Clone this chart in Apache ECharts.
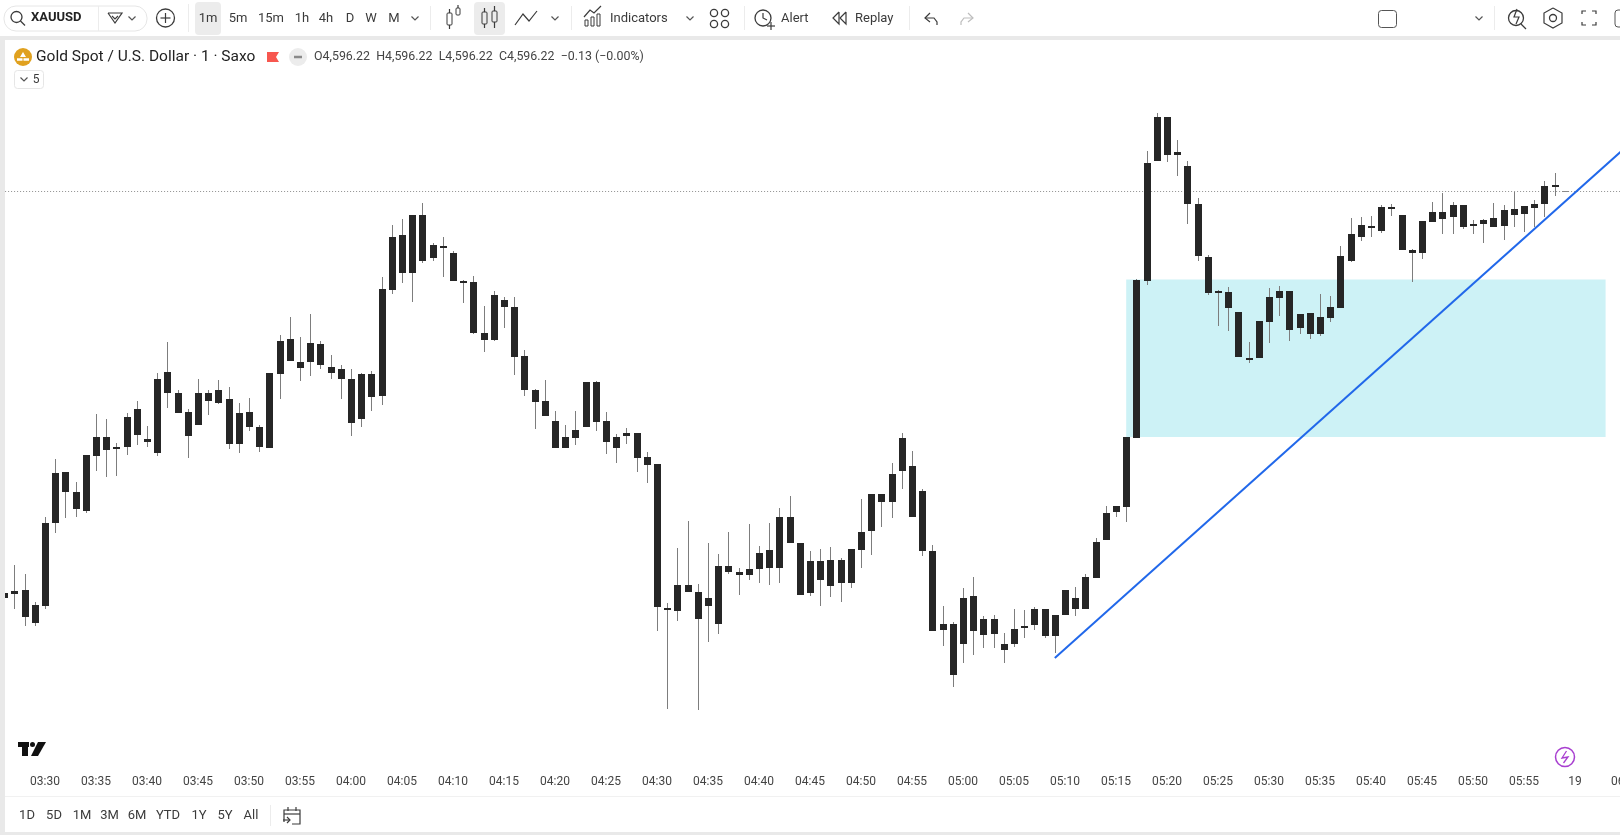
<!DOCTYPE html>
<html style="height:100%;">
<head>
    <meta charset="utf-8">
    <title>Gold Spot / U.S. Dollar</title>
    <script src="https://cdn.jsdelivr.net/npm/echarts@6/dist/echarts.min.js"></script>
</head>
<body style="height:100%; margin:0; overflow:hidden; background:#fff;">
    <div id="main" style="width:1620px; height:835px;"></div>
    <script type="text/javascript">
    // 1 minute candles, first one is 03:26 and half hidden behind the left edge
    var opens = [
        4556.0,4555.9,4556.3,4553.0,4554.7,4563.0,4568.1,4566.1,4564.2,4569.7,
        4571.6,4570.4,4570.6,4574.4,4571.4,4570.0,4578.1,4576.0,4574.1,4572.8,
        4576.0,4575.0,4575.4,4570.9,4574.1,4572.6,4570.5,4577.9,4581.4,4579.1,
        4579.1,4580.9,4578.6,4578.4,4577.4,4573.4,4577.9,4575.7,4586.3,4591.8,
        4588.0,4593.8,4589.5,4590.7,4590.0,4587.2,4587.1,4582.0,4581.3,4585.3,
        4584.6,4579.7,4576.3,4575.2,4573.2,4570.5,4571.5,4572.6,4577.1,4573.2,
        4571.6,4571.7,4572.0,4569.6,4568.9,4554.5,4554.2,4556.8,4556.1,4554.7,
        4552.9,4558.7,4558.1,4557.8,4558.4,4560.3,4558.5,4563.6,4561.0,4556.0,
        4559.2,4556.7,4559.3,4557.0,4560.3,4562.2,4565.9,4565.1,4568.2,4568.7,
        4566.2,4560.2,4552.3,4552.9,4550.9,4555.7,4551.8,4553.4,4550.9,4550.9,
        4552.5,4552.8,4554.4,4551.7,4553.8,4555.5,4554.4,4557.5,4561.3,4564.1,
        4564.6,4571.5,4587.2,4599.2,4603.6,4599.8,4598.7,4594.9,4589.6,4586.0,
        4586.1,4584.1,4579.5,4579.5,4583.1,4585.5,4586.2,4582.5,4584.0,4581.9,
        4583.5,4584.5,4589.2,4591.6,4592.7,4592.2,4594.6,4593.8,4590.3,4590.0,
        4593.1,4594.1,4593.6,4594.8,4592.8,4592.9,4593.5,4592.7,4594.4,4593.9,
        4594.5,4594.9,4596.8,4596.22
    ];
    var closes = [
        4555.5,4556.2,4553.6,4554.8,4563.0,4568.0,4566.1,4564.4,4569.8,4571.6,
        4570.3,4570.6,4573.6,4571.8,4571.1,4577.4,4576.0,4574.0,4571.7,4576.0,
        4575.2,4576.3,4570.9,4574.0,4572.6,4570.6,4578.0,4581.2,4579.2,4578.5,
        4581.0,4578.8,4578.0,4577.4,4573.0,4577.9,4575.6,4586.4,4591.6,4588.0,
        4593.8,4589.2,4590.8,4590.5,4587.2,4587.0,4582.0,4581.3,4585.8,4584.6,
        4579.6,4576.3,4575.1,4573.7,4570.5,4571.6,4572.3,4577.1,4573.1,4571.1,
        4570.5,4572.0,4569.5,4568.8,4554.6,4554.4,4556.8,4556.1,4553.4,4555.5,
        4558.7,4558.1,4557.8,4558.4,4560.0,4558.5,4563.6,4561.0,4555.8,4559.2,
        4557.3,4559.3,4557.0,4560.4,4562.1,4565.9,4565.1,4567.9,4571.5,4563.6,
        4560.2,4552.2,4552.9,4547.8,4555.5,4552.2,4553.4,4551.9,4550.3,4552.4,
        4552.7,4554.4,4551.7,4553.8,4556.3,4554.4,4557.6,4561.1,4564.0,4564.7,
        4571.6,4587.3,4599.0,4603.6,4599.8,4600.1,4594.9,4589.7,4586.0,4586.2,
        4584.5,4579.6,4579.4,4583.2,4585.6,4586.2,4582.3,4583.9,4581.9,4583.6,
        4584.6,4589.7,4591.9,4592.8,4592.6,4594.6,4594.4,4590.3,4590.0,4593.2,
        4594.1,4593.4,4594.8,4592.6,4592.9,4593.3,4592.6,4594.3,4593.8,4594.7,
        4594.9,4596.7,4596.6,4596.22
    ];
    var highs = [
        4556.0,4558.8,4557.9,4555.1,4563.6,4569.4,4568.1,4567.1,4569.8,4573.9,
        4573.4,4571.0,4574.0,4575.2,4572.7,4578.0,4581.1,4576.3,4574.4,4577.4,
        4576.3,4577.3,4576.6,4575.0,4575.5,4572.8,4578.0,4581.8,4583.6,4581.6,
        4583.9,4581.2,4579.8,4578.8,4578.4,4578.0,4578.2,4587.6,4592.8,4593.4,
        4593.8,4595.0,4591.0,4591.6,4590.2,4587.3,4587.7,4584.7,4586.2,4585.6,
        4585.6,4580.3,4576.4,4577.3,4574.2,4572.8,4574.2,4577.1,4577.2,4574.1,
        4571.9,4572.5,4572.0,4570.1,4568.9,4555.0,4560.5,4563.2,4556.9,4561.0,
        4559.9,4562.1,4558.5,4562.9,4560.7,4563.0,4564.5,4565.7,4561.0,4560.2,
        4560.4,4560.6,4559.5,4560.4,4565.4,4565.9,4565.9,4569.0,4572.0,4570.2,
        4566.4,4560.8,4554.7,4553.1,4556.5,4557.6,4553.7,4553.8,4552.0,4554.4,
        4554.3,4554.6,4554.4,4553.8,4556.3,4556.6,4557.9,4561.5,4564.7,4564.7,
        4571.6,4587.4,4600.2,4604.0,4603.6,4601.3,4599.2,4595.5,4589.8,4586.3,
        4586.6,4584.1,4581.1,4583.2,4586.5,4586.7,4586.2,4583.9,4584.0,4585.9,
        4585.7,4590.7,4593.5,4593.6,4593.7,4594.8,4594.9,4593.8,4590.4,4593.2,
        4595.1,4596.0,4595.1,4594.8,4593.3,4593.4,4595.0,4594.8,4596.1,4594.7,
        4595.3,4597.2,4598.0,4596.22
    ];
    var lows = [
        4555.5,4554.4,4552.7,4552.7,4554.4,4562.0,4563.5,4563.6,4564.0,4568.2,
        4567.6,4567.7,4569.8,4570.8,4570.6,4569.7,4574.5,4574.0,4569.5,4572.8,
        4573.8,4574.9,4570.4,4570.0,4572.2,4570.1,4570.5,4575.4,4579.2,4577.2,
        4577.7,4578.4,4577.4,4575.4,4571.7,4572.6,4574.2,4574.8,4585.9,4587.0,
        4585.1,4589.0,4589.2,4587.6,4587.2,4585.0,4581.9,4580.1,4581.2,4582.5,
        4577.8,4575.7,4572.4,4573.7,4570.5,4570.5,4570.8,4572.6,4572.2,4569.9,
        4569.0,4570.9,4568.1,4567.0,4552.2,4544.4,4553.2,4556.1,4544.3,4551.1,
        4551.9,4557.9,4555.8,4557.3,4557.0,4556.8,4557.0,4561.0,4555.8,4555.7,
        4554.7,4555.6,4555.1,4556.5,4558.5,4559.8,4562.6,4563.5,4566.4,4563.6,
        4559.7,4552.2,4550.7,4546.6,4549.0,4549.8,4550.5,4550.5,4549.0,4550.6,
        4551.5,4552.3,4551.5,4550.0,4553.8,4553.7,4554.4,4557.5,4561.3,4563.6,
        4563.1,4571.5,4586.8,4599.2,4599.1,4597.7,4592.9,4589.2,4585.8,4582.7,
        4582.2,4579.6,4579.0,4579.5,4581.0,4583.7,4581.2,4581.9,4581.4,4581.7,
        4583.1,4584.5,4589.1,4591.2,4591.6,4592.0,4593.7,4590.3,4587.1,4589.4,
        4593.1,4591.9,4591.9,4592.4,4591.9,4591.0,4592.6,4591.3,4592.6,4592.1,
        4592.6,4593.6,4595.7,4596.22
    ];

    var firstMinute = 3 * 60 + 26;
    var categoryCount = 160;
    var tickLabels = {
        '03:30': '03:30', '03:35': '03:35', '03:40': '03:40', '03:45': '03:45', '03:50': '03:50',
        '03:55': '03:55', '04:00': '04:00', '04:05': '04:05', '04:10': '04:10', '04:15': '04:15',
        '04:20': '04:20', '04:25': '04:25', '04:30': '04:30', '04:35': '04:35', '04:40': '04:40',
        '04:45': '04:45', '04:50': '04:50', '04:55': '04:55', '05:00': '05:00', '05:05': '05:05',
        '05:10': '05:10', '05:15': '05:15', '05:20': '05:20', '05:25': '05:25', '05:30': '05:30',
        '05:35': '05:35', '05:40': '05:40', '05:45': '05:45', '05:50': '05:50', '05:55': '05:55',
        '06:00': '19', '06:05': '06:05'
    };
    var lastPrice = 4596.22;
    var trendFrom = ['05:09', 4549.5];
    var trendTo = ['06:05', 4600.6];
    var zoneFrom = ['05:16', 4587.35];
    var zoneTo = ['06:03', 4571.6];

    var categories = [];
    for (var m = 0; m < categoryCount; m++) {
        var t = firstMinute + m;
        var hh = Math.floor(t / 60), mm = t % 60;
        categories.push((hh < 10 ? '0' : '') + hh + ':' + (mm < 10 ? '0' : '') + mm);
    }
    var candleRows = opens.map(function (o, i) {
        return [i, o, closes[i], lows[i], highs[i]];
    });

    function renderCandle(params, api) {
        var i = api.value(0);
        var o = api.coord([i, api.value(1)]);
        var c = api.coord([i, api.value(2)]);
        var l = api.coord([i, api.value(3)]);
        var h = api.coord([i, api.value(4)]);
        var x = Math.round(o[0]);
        var top = Math.round(Math.min(o[1], c[1]));
        var bottom = Math.round(Math.max(o[1], c[1]));
        var flat = h[1] === l[1];
        return {
            type: 'group',
            children: [{
                type: 'line',
                shape: { x1: x + 0.5, y1: Math.round(h[1]), x2: x + 0.5, y2: Math.round(l[1]) },
                style: { stroke: '#7d7d7d', lineWidth: 1 }
            }, {
                type: 'rect',
                shape: { x: x - 3, y: top, width: 7, height: Math.max(bottom - top, flat ? 1 : 2) },
                style: { fill: flat ? '#8a8a8a' : '#262626' }
            }]
        };
    }

    // page furniture around the chart: toolbars, legend line, logo
    var ink = '#3b3b3b';
    var ui = [];
    function txt(s, x, y, size, opt) {
        opt = opt || {};
        ui.push({
            type: 'text', z: 20, silent: true,
            style: {
                text: s, x: x, y: y, fontSize: size, fontFamily: 'Roboto', fontWeight: opt.weight || 400,
                fill: opt.fill || ink, align: opt.align || 'center', verticalAlign: 'middle'
            }
        });
    }
    function box(x, y, w, h, fill, r, stroke) {
        ui.push({
            type: 'rect', z: 15, silent: true,
            shape: { x: x, y: y, width: w, height: h, r: r || 0 },
            style: { fill: fill || 'none', stroke: stroke || 'none', lineWidth: 1 }
        });
    }
    function ring(x, y, r, stroke, fill, width) {
        ui.push({
            type: 'circle', z: 16, silent: true,
            shape: { cx: x, cy: y, r: r },
            style: { fill: fill || 'none', stroke: stroke || 'none', lineWidth: width || 1.3 }
        });
    }
    function stroke(points, color, width) {
        ui.push({
            type: 'polyline', z: 16, silent: true,
            shape: { points: points },
            style: { fill: 'none', stroke: color || ink, lineWidth: width || 1.2 }
        });
    }
    function chevron(x, y) {
        stroke([[x - 3.5, y - 1.5], [x, y + 2], [x + 3.5, y - 1.5]], '#555', 1.2);
    }
    function sep(x, y1, y2) {
        stroke([[x + 0.5, y1], [x + 0.5, y2]], '#ececec', 1);
    }
    function candleIcon(x, y) {
        box(x - 7, y - 6, 5, 12, 'none', 1, ink);
        stroke([[x - 4.5, y - 10], [x - 4.5, y - 6]]);
        stroke([[x - 4.5, y + 6], [x - 4.5, y + 10]]);
    }

    // frame
    box(0, 36, 1620, 4, '#e9e9e9');
    box(0, 36, 5, 799, '#e9e9e9');
    box(0, 832, 1620, 3, '#e9e9e9');
    box(5, 796, 1615, 1, '#f1f1f1');

    // top toolbar
    box(4, 6, 143, 25, 'none', 12, '#e6e6e6');
    sep(98, 6, 31);
    ring(16.5, 17, 5.5, ink);
    stroke([[20.5, 21], [25, 25.5]]);
    txt('XAUUSD', 31, 18, 13, { align: 'left', weight: 700, fill: '#222' });
    stroke([[108, 13], [122, 13], [115, 23], [108, 13]]);
    stroke([[112, 16], [115, 19], [118, 16]]);
    chevron(132, 18);
    ring(165.5, 18, 9, ink);
    stroke([[165.5, 13], [165.5, 23]]);
    stroke([[160.5, 18], [170.5, 18]]);
    sep(188, 4, 32);
    box(195, 2, 26, 33, '#ececec', 4);
    box(474, 2, 31, 33, '#ececec', 4);
    [['1m', 208], ['5m', 238], ['15m', 271], ['1h', 302], ['4h', 326], ['D', 350], ['W', 371], ['M', 394]].forEach(function (b) {
        txt(b[0], b[1], 18.5, 13);
    });
    chevron(415, 18);
    sep(430, 6, 30);
    candleIcon(454, 19);
    box(456, 8, 4, 7, 'none', 1, ink);
    stroke([[458, 5], [458, 8]]);
    candleIcon(489, 18);
    box(492, 11, 5, 11, 'none', 1, ink);
    stroke([[494.5, 6], [494.5, 11]]);
    stroke([[494.5, 22], [494.5, 28]]);
    stroke([[515, 25], [523, 14], [529, 21], [537, 11]]);
    chevron(555, 18);
    sep(571, 6, 30);
    box(585, 20, 3, 6, 'none', 0, ink);
    box(591, 17, 3, 9, 'none', 0, ink);
    box(597, 14, 3, 12, 'none', 0, ink);
    stroke([[584, 17], [590, 10], [594, 13], [601, 6]]);
    txt('Indicators', 610, 18.5, 13, { align: 'left' });
    chevron(690, 18);
    [[714, 13], [725, 13], [714, 24], [725, 24]].forEach(function (p) {
        ring(p[0], p[1], 3.6, ink);
    });
    sep(744, 6, 30);
    ring(763, 18, 8, ink);
    stroke([[763, 13], [763, 18], [767, 20]]);
    stroke([[767, 26], [775, 26]]);
    stroke([[771, 22], [771, 30]]);
    txt('Alert', 781, 18.5, 13, { align: 'left' });
    stroke([[839, 12], [833, 18], [839, 24], [839, 12]]);
    stroke([[846, 12], [840, 18], [846, 24], [846, 12]]);
    txt('Replay', 855, 18.5, 13, { align: 'left' });
    sep(909, 6, 30);
    stroke([[930, 13], [925, 18], [930, 22]]);
    stroke([[925, 18], [934, 18], [937, 22], [937, 25]]);
    stroke([[968, 13], [973, 18], [968, 22]], '#bdbdbd');
    stroke([[973, 18], [964, 18], [961, 22], [961, 25]], '#bdbdbd');
    box(1378.5, 10.5, 18, 17, 'none', 3, '#555');
    chevron(1479, 18);
    sep(1494, 6, 30);
    ring(1516, 18, 7.5, ink);
    stroke([[1521, 24], [1526, 29]]);
    stroke([[1517, 9], [1514, 17], [1519, 17], [1516, 24]]);
    stroke([[1553, 8], [1562, 13], [1562, 23], [1553, 28], [1544, 23], [1544, 13], [1553, 8]]);
    ring(1553, 18, 3.5, ink);
    stroke([[1582, 14], [1582, 11], [1586, 11]]);
    stroke([[1592, 11], [1596, 11], [1596, 14]]);
    stroke([[1596, 22], [1596, 25], [1592, 25]]);
    stroke([[1586, 25], [1582, 25], [1582, 22]]);
    box(1615, 10, 9, 17, 'none', 3, '#555');

    // legend line
    ring(23, 57, 9, null, '#e0a11f');
    ui.push({ type: 'polygon', z: 17, silent: true, shape: { points: [[20, 57], [23, 52], [26, 57]] }, style: { fill: '#fff' } });
    stroke([[17, 59.5], [22.5, 59.5]], '#fff', 2.5);
    stroke([[23.5, 59.5], [29, 59.5]], '#fff', 2.5);
    txt('Gold Spot / U.S. Dollar \u00b7 1 \u00b7 Saxo', 36, 57, 15.5, { align: 'left', fill: '#222' });
    ui.push({ type: 'polygon', z: 16, silent: true, shape: { points: [[267, 52], [279, 52], [276, 57], [279, 62], [267, 62]] }, style: { fill: '#f7574f' } });
    ring(298, 57, 9, null, '#ececec');
    stroke([[294, 57], [302, 57]], '#8a8a8a', 2.5);
    txt('O4,596.22  H4,596.22  L4,596.22  C4,596.22  \u22120.13 (\u22120.00%)', 314, 57, 12.4, { align: 'left', fill: '#444' });
    box(14.5, 70.5, 29, 18, '#fff', 3, '#e6e6e6');
    chevron(24, 79);
    txt('5', 36, 79.5, 12);

    // tradingview logo and the flash marker
    box(18, 742, 11, 5, '#111');
    box(22, 742, 6, 14, '#111');
    ui.push({ type: 'polygon', z: 16, silent: true, shape: { points: [[38, 742], [46, 742], [38, 756], [31, 756]] }, style: { fill: '#111' } });
    ring(32.5, 744.5, 2.5, null, '#111');
    ring(1565, 757, 9.5, '#a83fd0', '#fff', 1.5);
    stroke([[1566.5, 751], [1562, 758], [1568, 757], [1563.5, 763]], '#a83fd0', 1.3);

    // bottom toolbar
    [['1D', 27], ['5D', 54], ['1M', 82], ['3M', 109.5], ['6M', 137], ['YTD', 168], ['1Y', 199], ['5Y', 225], ['All', 251]].forEach(function (b) {
        txt(b[0], b[1], 816, 13);
    });
    sep(270, 805, 826);
    stroke([[284, 822], [284, 810], [300, 810], [300, 824], [292, 824]]);
    stroke([[284, 814], [300, 814]]);
    stroke([[288, 807], [288, 811]]);
    stroke([[296, 807], [296, 811]]);
    stroke([[283, 820], [290, 820]]);
    stroke([[287, 817], [290, 820], [287, 823]]);

    var myChart = echarts.init(document.getElementById('main'));
    myChart.setOption({
        animation: false,
        backgroundColor: '#fff',
        grid: { left: -0.9, top: 40, width: 1632, height: 705, outerBoundsMode: 'none' },
        xAxis: {
            type: 'category',
            data: categories,
            axisLine: { show: false },
            axisTick: { show: false },
            splitLine: { show: false },
            axisLabel: {
                margin: 31,
                fontSize: 12,
                fontFamily: 'Roboto',
                color: '#444',
                interval: function (index, value) {
                    return tickLabels[value] !== undefined;
                },
                formatter: function (value) {
                    return tickLabels[value];
                }
            }
        },
        yAxis: {
            type: 'value',
            min: 4540.8,
            max: 4611.3,
            show: false,
            splitLine: { show: false }
        },
        series: [{
            type: 'custom',
            name: 'XAUUSD',
            z: 2,
            clip: true,
            silent: true,
            encode: { x: 0, y: [1, 2, 3, 4] },
            data: candleRows,
            renderItem: renderCandle,
            markLine: {
                silent: true,
                z: 1,
                symbol: 'none',
                label: { show: false },
                lineStyle: { color: '#8f8f8f', type: [1, 2], width: 1 },
                data: [{ yAxis: lastPrice }]
            },
            markArea: {
                silent: true,
                z: 1,
                itemStyle: { color: '#cdf2f6' },
                data: [[
                    { xAxis: zoneFrom[0], yAxis: zoneFrom[1] },
                    { xAxis: zoneTo[0], yAxis: zoneTo[1] }
                ]]
            }
        }, {
            type: 'line',
            name: 'trend',
            z: 5,
            silent: true,
            symbol: 'none',
            lineStyle: { color: '#2168ea', width: 2 },
            data: [trendFrom, trendTo]
        }],
        graphic: ui
    });
    </script>
</body>
</html>
